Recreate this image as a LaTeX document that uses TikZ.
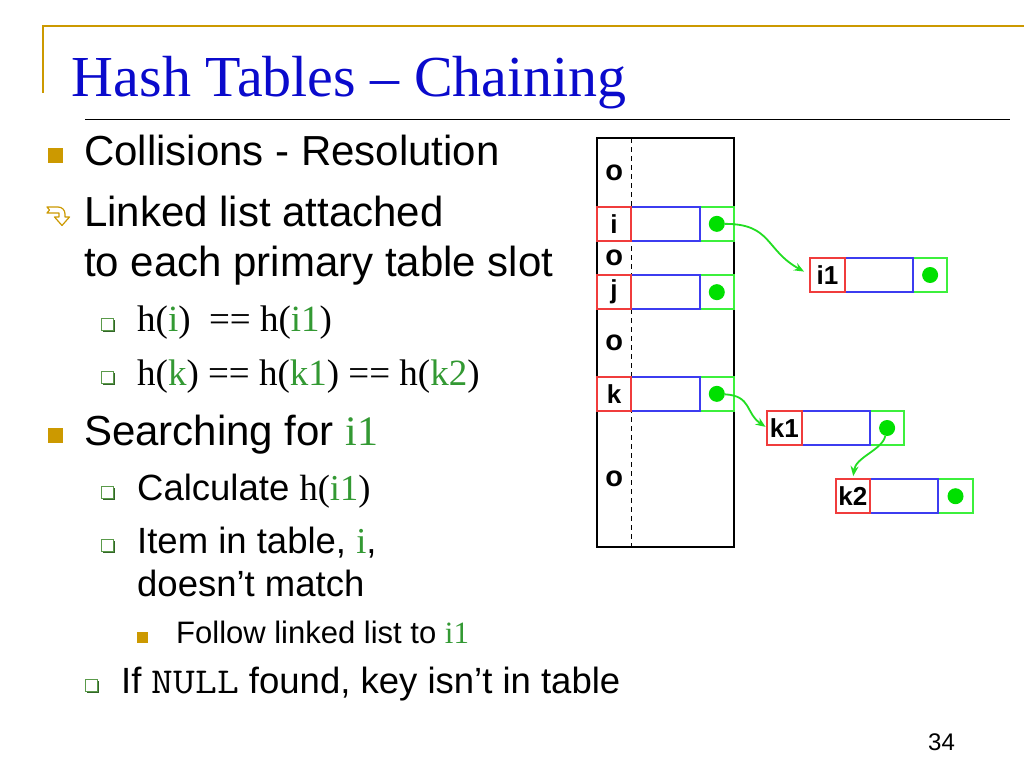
\documentclass[tikz,border=0pt]{standalone}
\usepackage{fontspec}
\setmainfont{Liberation Sans}
\newfontfamily\tnr{Liberation Serif}
\usetikzlibrary{arrows.meta, calc, positioning, shadows}
\definecolor{gold}{HTML}{CC9900}
\definecolor{ttlblue}{HTML}{0A0ACC}
\definecolor{keygreen}{HTML}{339933}
\definecolor{sqgreen}{HTML}{5A9A4A}
\definecolor{sqshade}{HTML}{336628}
\definecolor{cellred}{HTML}{F03C3C}
\definecolor{cellblue}{HTML}{3C3CF0}
\definecolor{cellgreen}{HTML}{3CF03C}
\definecolor{dotgreen}{HTML}{00E000}
\definecolor{arrgreen}{HTML}{22DD22}

\newcommand{\gv}[1]{{\tnr\color{keygreen}#1}}

\begin{document}
\begin{tikzpicture}[x=1pt, y=-1pt,
        txt/.style={anchor=base west, inner sep=0},
        lvla/.style={txt, font=\fontsize{42}{50}\selectfont},
        lvlb/.style={txt, font=\fontsize{36.5}{43}\selectfont},
        lvlc/.style={txt, font=\fontsize{31}{36}\selectfont},
        sqgold/.style={fill=gold, minimum size=15, inner sep=0},
        sqhollow/.style={draw=sqgreen, fill=white, line width=1.2, minimum size=12, inner sep=0,
                drop shadow={shadow xshift=1.8pt, shadow yshift=-1.8pt, opacity=1, fill=sqshade}},
        cell/.style={draw, inner sep=0, outer sep=0, minimum height=34.3, line width=1.8,
                font=\bfseries\fontsize{26}{26}\selectfont},
        keycell/.style={cell, draw=cellred, minimum width=34.4},
        datacell/.style={cell, draw=cellblue, minimum width=68.3},
        linkcell/.style={cell, draw=cellgreen, minimum width=34.4},
        dot/.style={circle, fill=dotgreen, minimum size=16, inner sep=0},
        link/.style={arrgreen, line width=1.8, -{Stealth[length=10pt, width=8pt]}}]
    \fill[white] (0,0) rectangle (1024,768);
    \useasboundingbox (0,0) rectangle (1024,768);
    % header
    \draw[gold, line width=2] (1024,25.7) -- (42.7,25.7) -- (42.7,93);
    \draw[line width=1.5] (85,119.3) -- (1010,119.3);
    \node[txt, font=\tnr\fontsize{58}{60}\selectfont, text=ttlblue] (title) at (71.7,96) {Hash Tables – Chaining};
    % bullets and text
    \node[sqgold] (b1) at (55,155.5) {};
    \node[lvla] (collide) at (84,165) {Collisions - Resolution};
    \draw[gold, fill=white, line width=1.2, line join=round]
        (47,207) -- (58,207) .. controls (62,207) and (65,210) .. (65,214) -- (65,217)
        -- (69.5,217) -- (62,225.5) -- (54.5,217) -- (59,217) -- (59,213)
        -- (47,213) -- (49.5,210) -- cycle;
    \node[lvla] (linked) at (84,226.7) {Linked list attached};
    \node[lvla] (linkedb) at (84,276.7) {to each primary table slot};
    \node[sqhollow] (b2) at (107.5,324.2) {};
    \node[txt, font=\tnr\fontsize{37}{44}\selectfont] (hi) at (137,331.7) {h(\gv{i})\ \ == h(\gv{i1})};
    \node[sqhollow] (b3) at (107.5,377.5) {};
    \node[txt, font=\tnr\fontsize{37}{44}\selectfont] (hk) at (137,385) {h(\gv{k}) == h(\gv{k1}) == h(\gv{k2})};
    \node[sqgold] (b4) at (55,435.5) {};
    \node[lvla] (search) at (84,445) {Searching for \gv{i1}};
    \node[sqhollow] (b5) at (107.5,492.5) {};
    \node[lvlb] (calcline) at (137,500) {Calculate {\tnr h(\gv{i1})}};
    \node[sqhollow] (b6) at (107.5,545.5) {};
    \node[lvlb] (item) at (137,553) {Item in table, \gv{i},};
    \node[lvlb] (itemb) at (137,596.7) {doesn’t match};
    \node[sqgold, minimum size=11] (b7) at (142.5,637.5) {};
    \node[lvlc] (follow) at (176,643) {Follow linked list to \gv{i1}};
    \node[sqhollow] (b8) at (91.5,685.5) {};
    \node[lvlb] (ifnull) at (121,693) {If \scalebox{1.16}[1]{\ttfamily NULL} found, key isn’t in table};
    \node[txt, font=\fontsize{24}{24}\selectfont] (page) at (928,750) {34};
    % hash table
    \node[draw, line width=1.8, inner sep=0, outer sep=0, minimum width=137.1,
        minimum height=408.4, anchor=north west] (tbl) at (596.9,138.3) {};
    \draw[line width=1.2, dash pattern=on 5pt off 4pt]
        ($(tbl.north west)+(34.4,0)$) -- ($(tbl.south west)+(34.4,0)$);
    \foreach \y [count=\n] in {172.7,258,342.7,478.8}
        \node[font=\bfseries\fontsize{29}{29}\selectfont] (empty\n) at (614.1,\y) {o};
    \foreach \s/\x/\y in {i/734/223.85, j/734/292.15, k/734/393.85,
            i1/947.3/275, k1/904.3/428, k2/972.7/496.2} {
        \node[linkcell, anchor=east] (\s-link) at (\x,\y) {};
        \node[datacell, left=0pt of \s-link] (\s-data) {};
        \node[keycell, left=0pt of \s-data] (\s-key) {\s};
        \node[dot] (\s-dot) at (\s-link) {};
    }
    \draw[link, shorten >=7pt] (i-dot) .. controls +(55,0) and +(-45,-25) .. (i1-key.west);
    \draw[link, shorten >=2pt] (k-dot) .. controls +(35,2) and +(-22,-15) .. (k1-key.west);
    \draw[link, shorten >=3pt] (k1-dot) .. controls +(-5,22) and +(3,-22) .. (k2-key.north);
\end{tikzpicture}
\end{document}
